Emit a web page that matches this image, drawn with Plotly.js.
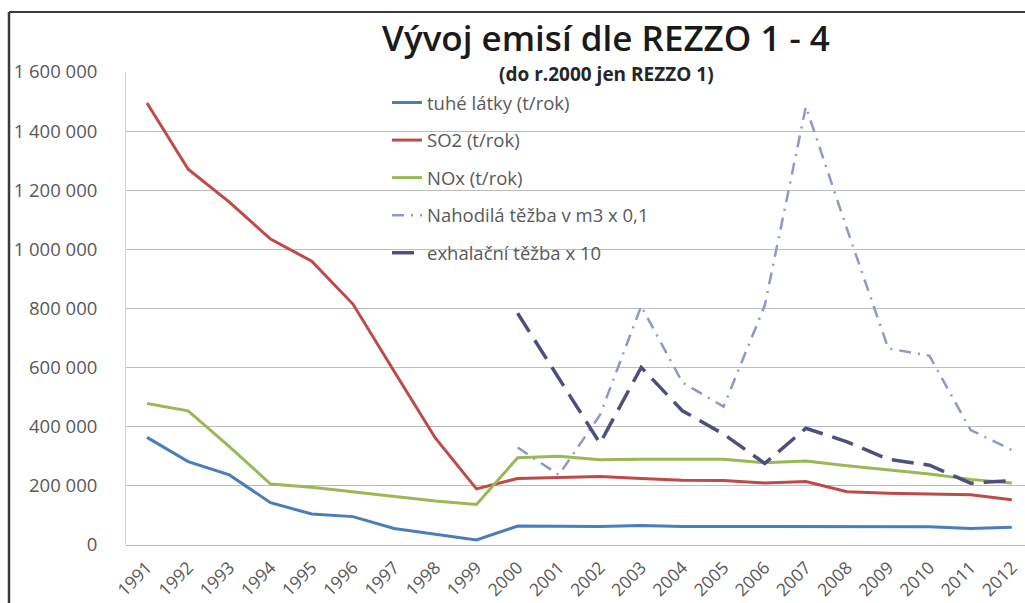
<!DOCTYPE html>
<html>
<head>
<meta charset="utf-8">
<script src="https://cdn.plot.ly/plotly-3.0.1.min.js"></script>
<style>html,body{margin:0;padding:0;background:#fff}#chart{width:1025px;height:603px}</style>
</head>
<body>
<div id="chart"></div>
<script>
const years = [1991,1992,1993,1994,1995,1996,1997,1998,1999,2000,2001,2002,2003,2004,2005,2006,2007,2008,2009,2010,2011,2012];
const tuheLatky = [364000,282000,237000,143000,105000,96000,56000,36000,17000,64000,63000,63000,66000,63000,63000,63000,63000,63000,63000,62000,56000,60000];
const so2 = [1495000,1271000,1160000,1035000,960000,815000,588000,362000,190000,225000,228000,232000,225000,219000,218000,210000,215000,180000,175000,172000,170000,153000];
const nox = [479000,454000,333000,206000,195000,180000,166000,149000,137000,295000,300000,288000,290000,290000,290000,278000,284000,268000,255000,240000,222000,210000];
const nahodila = [null,null,null,null,null,null,null,null,null,330000,237000,440000,808000,550000,468000,810000,1483000,1068000,665000,640000,389000,321000];
const exhalacni = [null,null,null,null,null,null,null,null,null,784000,565000,344000,601000,454000,375000,276000,395000,349000,290000,270000,209000,218000];
const names = ['tuhé látky (t/rok)','SO2 (t/rok)','NOx (t/rok)','Nahodilá těžba v m3 x 0,1','exhalační těžba x 10'];

const F = '"Open Sans", Lato, sans-serif';
const traces = [
  {y: tuheLatky, name: names[0], line:{color:'#4A7EBB', width:3}},
  {y: so2, name: names[1], line:{color:'#BE4B48', width:3}},
  {y: nox, name: names[2], line:{color:'#98B954', width:3}},
  {y: nahodila, name: names[3], line:{color:'#8E98CB', width:2.5, dash:'12px,7px,2px,7px'}},
  {y: exhalacni, name: names[4], line:{color:'#4F4F7F', width:3.5, dash:'22px,10px'}}
].map((t,i)=>Object.assign({x: years, type:'scatter', mode:'lines', legendgroup:'g'+i, hoverinfo:'skip'}, t));

const layout = {
  width: 1025, height: 603,
  margin: {l:126, r:0, t:72, b:58},
  paper_bgcolor:'#ffffff', plot_bgcolor:'#ffffff',
  separators: ', ',
  font: {family: F, color:'#595959', size:15},
  title: {text:'Vývoj emisí dle REZZO 1 - 4', font:{family:F, size:35, color:'#1a1a1a', weight:600},
          x:606/1025, xanchor:'center', xref:'container', y:1-39/603, yanchor:'middle', yref:'container'},
  annotations: [{text:'(do r.2000 jen REZZO 1)', xref:'paper', yref:'paper', x:(606-126)/899, y:(545-74)/473,
                 xanchor:'center', yanchor:'middle', showarrow:false, font:{family:F, size:19, color:'#262626', weight:700}}],
  xaxis: {range:[1990.49, 2012.32], tickmode:'array', tickvals: years, ticktext: years.map(String), tickangle:-45,
          showgrid:false, zeroline:false, showline:false, ticks:'', ticklabelstandoff:8, tickfont:{size:17.5, color:'#595959'}, fixedrange:true},
  yaxis: {range:[0,1600000], dtick:200000, tickformat:',d', showgrid:true, gridcolor:'#bdbdbd', gridwidth:1,
          zeroline:true, zerolinecolor:'#bdbdbd', zerolinewidth:1, showline:true, linecolor:'#d0d0d0', linewidth:1,
          ticks:'', ticklabelstandoff:24, tickfont:{size:18.5, color:'#595959'}, fixedrange:true},
  showlegend:true,
  legend: {x:(387-126)/899, xanchor:'left', y:(545-84)/473, yanchor:'top', bgcolor:'rgba(0,0,0,0)',
           tracegroupgap:10.5, font:{family:F, size:18.5, color:'#595959'}, itemwidth:30},
  shapes: [
    {type:'line', xref:'paper', yref:'paper', x0:(9-126)/899, x1:(9-126)/899, y0:(545-12)/473, y1:(545-610)/473, line:{color:'#3a3a3a', width:2.5}},
    {type:'line', xref:'paper', yref:'paper', x0:(9-126)/899, x1:(1030-126)/899, y0:(545-12)/473, y1:(545-12)/473, line:{color:'#3a3a3a', width:2}}
  ]
};
Plotly.newPlot('chart', traces, layout, {staticPlot:true, displayModeBar:false});
</script>
</body>
</html>
